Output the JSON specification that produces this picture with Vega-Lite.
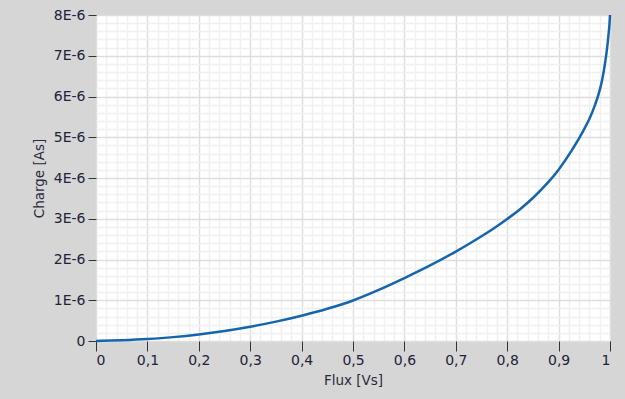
{
  "$schema": "https://vega.github.io/schema/vega-lite/v6.json",
  "autosize": {"type": "none"},
  "width": 514,
  "height": 326,
  "padding": {"left": 96, "top": 15, "right": 15, "bottom": 58},
  "background": "#d6d6d6",
  "config": {
    "view": {"fill": "white", "stroke": "#8a8a8a", "strokeWidth": 1},
    "font": "DejaVu Sans"
  },
  "data": {
    "values": [
      {"flux": 0, "charge": 0},
      {"flux": 0.05, "charge": 0.02e-6},
      {"flux": 0.1, "charge": 0.05e-6},
      {"flux": 0.15, "charge": 0.095e-6},
      {"flux": 0.2, "charge": 0.16e-6},
      {"flux": 0.25, "charge": 0.245e-6},
      {"flux": 0.3, "charge": 0.35e-6},
      {"flux": 0.35, "charge": 0.475e-6},
      {"flux": 0.4, "charge": 0.62e-6},
      {"flux": 0.45, "charge": 0.79e-6},
      {"flux": 0.5, "charge": 0.995e-6},
      {"flux": 0.55, "charge": 1.255e-6},
      {"flux": 0.6, "charge": 1.545e-6},
      {"flux": 0.65, "charge": 1.855e-6},
      {"flux": 0.7, "charge": 2.195e-6},
      {"flux": 0.75, "charge": 2.57e-6},
      {"flux": 0.775, "charge": 2.775e-6},
      {"flux": 0.8, "charge": 2.995e-6},
      {"flux": 0.825, "charge": 3.235e-6},
      {"flux": 0.85, "charge": 3.51e-6},
      {"flux": 0.875, "charge": 3.83e-6},
      {"flux": 0.9, "charge": 4.205e-6},
      {"flux": 0.925, "charge": 4.665e-6},
      {"flux": 0.95, "charge": 5.205e-6},
      {"flux": 0.96, "charge": 5.455e-6},
      {"flux": 0.97, "charge": 5.765e-6},
      {"flux": 0.98, "charge": 6.155e-6},
      {"flux": 0.985, "charge": 6.425e-6},
      {"flux": 0.99, "charge": 6.785e-6},
      {"flux": 0.994, "charge": 7.15e-6},
      {"flux": 0.997, "charge": 7.5e-6},
      {"flux": 0.999, "charge": 7.78e-6},
      {"flux": 1.0, "charge": 8.0e-6}
    ]
  },
  "layer": [
    {
      "mark": {"type": "line", "strokeOpacity": 0},
      "encoding": {
        "x": {
          "field": "flux", "type": "quantitative",
          "scale": {"domain": [0, 1], "nice": false, "zero": false},
          "axis": {
            "orient": "bottom", "title": null, "labels": false, "ticks": false, "domain": false,
            "values": [0.02,0.04,0.06,0.08,0.12,0.14,0.16,0.18,0.22,0.24,0.26,0.28,0.32,0.34,0.36,0.38,0.42,0.44,0.46,0.48,0.52,0.54,0.56,0.58,0.62,0.64,0.66,0.68,0.72,0.74,0.76,0.78,0.82,0.84,0.86,0.88,0.92,0.94,0.96,0.98],
            "grid": true, "gridColor": "#f0f0f0", "gridWidth": 1.5
          }
        },
        "y": {
          "field": "charge", "type": "quantitative",
          "scale": {"domain": [0, 8e-6], "nice": false},
          "axis": {
            "orient": "left", "title": null, "labels": false, "ticks": false, "domain": false,
            "values": [0.2e-6,0.4e-6,0.6e-6,0.8e-6,1.2e-6,1.4e-6,1.6e-6,1.8e-6,2.2e-6,2.4e-6,2.6e-6,2.8e-6,3.2e-6,3.4e-6,3.6e-6,3.8e-6,4.2e-6,4.4e-6,4.6e-6,4.8e-6,5.2e-6,5.4e-6,5.6e-6,5.8e-6,6.2e-6,6.4e-6,6.6e-6,6.8e-6,7.2e-6,7.4e-6,7.6e-6,7.8e-6],
            "grid": true, "gridColor": "#f0f0f0", "gridWidth": 1.5
          }
        }
      }
    },
    {
      "mark": {"type": "line", "color": "#1565ae", "strokeWidth": 2.5, "interpolate": "monotone"},
      "encoding": {
        "x": {
          "field": "flux", "type": "quantitative",
          "scale": {"domain": [0, 1], "nice": false, "zero": false},
          "axis": {
            "orient": "bottom", "title": "Flux [Vs]",
            "values": [0,0.1,0.2,0.3,0.4,0.5,0.6,0.7,0.8,0.9,1],
            "labelExpr": "replace(toString(round(datum.value * 10) / 10), '.', ',')",
            "grid": true, "gridColor": "#dedede", "gridWidth": 1.5,
            "domain": false, "ticks": true, "tickColor": "#333333", "tickSize": 10, "tickWidth": 1,
            "labelFont": "DejaVu Sans", "labelFontSize": 14, "labelColor": "#22223a", "labelPadding": 2,
            "titleFont": "DejaVu Sans", "titleFontSize": 13.5, "titleFontWeight": "normal", "titleColor": "#2a2a3a", "titlePadding": 6
          }
        },
        "y": {
          "field": "charge", "type": "quantitative",
          "scale": {"domain": [0, 8e-6], "nice": false},
          "axis": {
            "orient": "left", "title": "Charge [As]",
            "values": [0,1e-6,2e-6,3e-6,4e-6,5e-6,6e-6,7e-6,8e-6],
            "labelExpr": "datum.value == 0 ? '0' : format(datum.value * 1e6, 'd') + 'E-6'",
            "grid": true, "gridColor": "#dedede", "gridWidth": 1.5,
            "domain": false, "ticks": true, "tickColor": "#333333", "tickSize": 8, "tickWidth": 1,
            "labelFont": "DejaVu Sans", "labelFontSize": 14, "labelColor": "#22223a", "labelPadding": 3,
            "titleFont": "DejaVu Sans", "titleFontSize": 13.5, "titleFontWeight": "normal", "titleColor": "#2a2a3a", "titlePadding": 7
          }
        }
      }
    }
  ],
  "resolve": {"axis": {"x": "independent", "y": "independent"}}
}
